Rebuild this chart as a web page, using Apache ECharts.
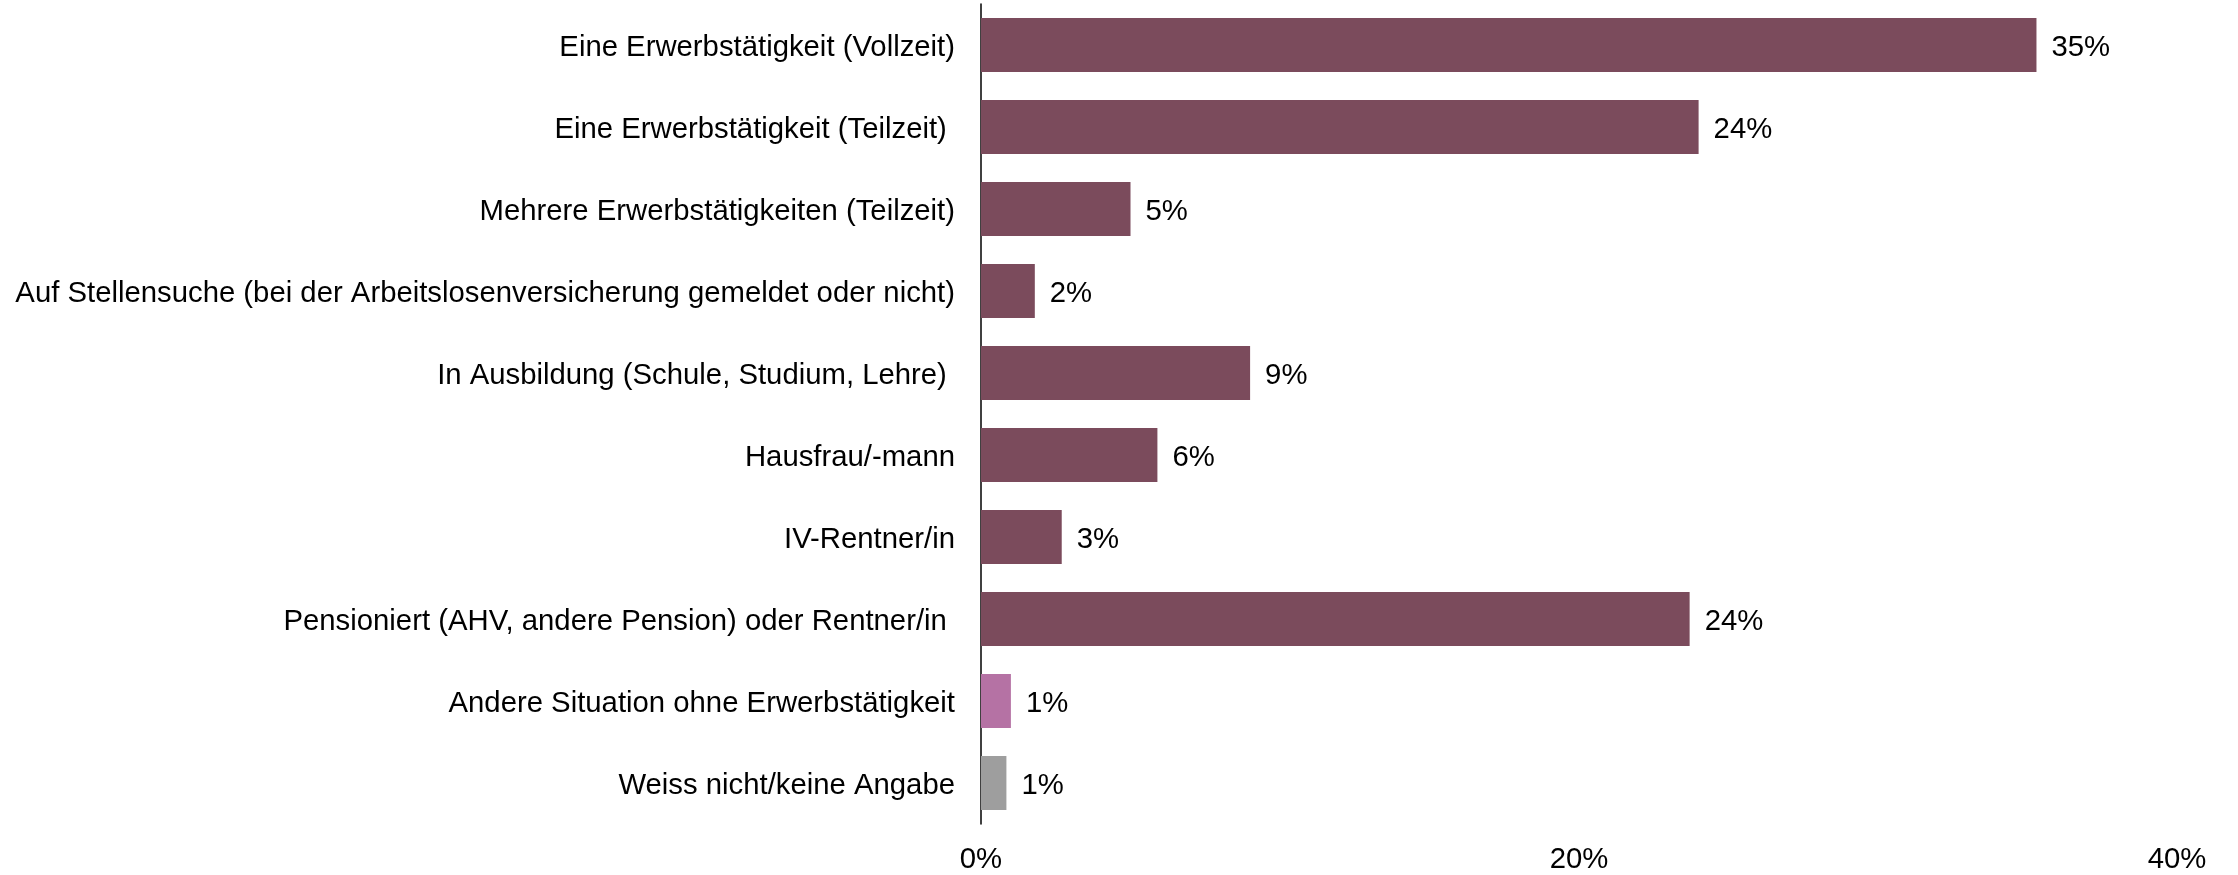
<!DOCTYPE html>
<html>
<head>
<meta charset="utf-8">
<script src="https://cdn.jsdelivr.net/npm/echarts@6/dist/echarts.min.js"></script>
<style>
html,body{margin:0;padding:0;background:#fff;}
#chart{width:2238px;height:875px;}
</style>
</head>
<body>
<div id="chart"></div>
<script>
const categories = [
  "Eine Erwerbstätigkeit (Vollzeit)",
  "Eine Erwerbstätigkeit (Teilzeit) ",
  "Mehrere Erwerbstätigkeiten (Teilzeit)",
  "Auf Stellensuche (bei der Arbeitslosenversicherung gemeldet oder nicht)",
  "In Ausbildung (Schule, Studium, Lehre) ",
  "Hausfrau/-mann",
  "IV-Rentner/in",
  "Pensioniert (AHV, andere Pension) oder Rentner/in ",
  "Andere Situation ohne Erwerbstätigkeit",
  "Weiss nicht/keine Angabe"
];
const values = [35.3, 24.0, 5.0, 1.8, 9.0, 5.9, 2.7, 23.7, 1.0, 0.85];
const barColors = ["#7B4B5C","#7B4B5C","#7B4B5C","#7B4B5C","#7B4B5C","#7B4B5C","#7B4B5C","#7B4B5C","#B572A4","#9E9E9E"];
const xTicks = [0, 20, 40];

const FONT = "'Liberation Sans', Arial, sans-serif";
const FS = 29.3;
const chart = echarts.init(document.getElementById('chart'));
chart.setOption({
  animation: false,
  backgroundColor: '#ffffff',
  grid: { left: 981, right: 61, top: 4, bottom: 51, containLabel: false },
  xAxis: {
    type: 'value',
    min: xTicks[0], max: xTicks[xTicks.length - 1], interval: xTicks[1] - xTicks[0],
    axisLine: { show: false },
    axisTick: { show: false },
    splitLine: { show: false },
    axisLabel: { formatter: '{value}%', color: '#000', fontFamily: FONT, fontSize: FS, margin: 21 }
  },
  yAxis: {
    type: 'category',
    inverse: true,
    data: categories,
    axisLine: { show: true, lineStyle: { color: '#000', width: 1.5 } },
    axisTick: { show: false },
    axisLabel: {
      color: '#000', fontFamily: FONT, fontSize: FS, margin: 26,
      formatter: v => '{t|' + v + '}',
      rich: { t: { color: '#000', fontFamily: FONT, fontSize: FS, padding: [6, 0, 0, 0] } }
    }
  },
  series: [{
    type: 'bar',
    data: values.map((v, i) => ({ value: v, itemStyle: { color: barColors[i] } })),
    barWidth: '66%',
    label: {
      show: true, position: 'right', distance: 15, offset: [0, 3],
      color: '#000', fontFamily: FONT, fontSize: FS,
      formatter: p => Math.round(p.value) + '%'
    }
  }]
});
</script>
</body>
</html>
